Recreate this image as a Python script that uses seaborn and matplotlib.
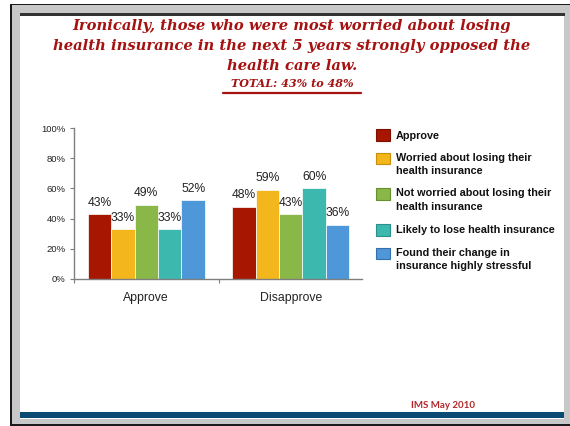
import matplotlib
matplotlib.use("Agg")
import matplotlib.pyplot as plt
from matplotlib.patches import Rectangle, Patch
from matplotlib.lines import Line2D
import seaborn as sns
import pandas as pd

# Survey results: share of each group that approves / disapproves of the law
categories = ["Approve", "Disapprove"]
groups = [
    "Approve",
    "Worried about losing their\nhealth insurance",
    "Not worried about losing their\nhealth insurance",
    "Likely to lose health insurance",
    "Found their change in\ninsurance highly stressful",
]
approve_vals = [43, 33, 49, 33, 52]
disapprove_vals = [48, 59, 43, 60, 36]
y_ticks = [0, 20, 40, 60, 80, 100]
y_tick_labels = ["0%", "20%", "40%", "60%", "80%", "100%"]

colors = ["#A61600", "#F3B71D", "#89B748", "#3DB8AE", "#4E97D9"]
edge_colors = ["#7E1000", "#C8900A", "#66902E", "#2A8F87", "#3670A8"]

df = pd.DataFrame({
    "category": [c for g in groups for c in categories],
    "group": [g for g in groups for _ in categories],
    "value": [v for pair in zip(approve_vals, disapprove_vals) for v in pair],
})

sns.set_theme(style="white")
plt.rcParams["font.family"] = ["Liberation Sans", "DejaVu Sans"]

W, H = 570, 426
fig = plt.figure(figsize=(W / 100, H / 100), dpi=100)
fig.patch.set_facecolor("white")

# Slide frame drawn in pixel coordinates on a background layer
bg = fig.add_axes([0, 0, 1, 1], zorder=0)
bg.set_xlim(0, W)
bg.set_ylim(H, 0)
bg.axis("off")
bg.add_patch(Rectangle((10, 4), W - 10, H - 4, facecolor="#1a1a1a", lw=0))
bg.add_patch(Rectangle((12, 5), W - 12, H - 7, facecolor="#C8C8C8", lw=0))
bg.add_patch(Rectangle((20, 13), 544, 406, facecolor="white", lw=0))
bg.add_patch(Rectangle((20, 13), 545, 3, facecolor="#333333", lw=0))
bg.add_patch(Rectangle((20, 412), 544, 6, facecolor="#0B4A72", lw=0))

# Title block
title_red = "#A51212"
title_kw = dict(ha="center", va="baseline", color=title_red,
                family=["DejaVu Serif"], fontweight="bold", style="italic",
                transform=bg.transData)
bg.text(292, 30, "Ironically, those who were most worried about losing",
        fontsize=10.6, **title_kw)
bg.text(292, 50, "health insurance in the next 5 years strongly opposed the",
        fontsize=10.6, **title_kw)
bg.text(292, 70, "health care law.", fontsize=10.6, **title_kw)
bg.text(292, 87, "TOTAL: 43% to 48%", fontsize=8.0, **title_kw)
bg.add_line(Line2D([223, 361], [93, 93], color=title_red, lw=1.6))

bg.text(443, 406, "IMS May 2010", ha="center", va="center", color="#B0282A",
        family=["Lato", "DejaVu Sans"], fontweight="bold", fontsize=7,
        transform=bg.transData)

# Bar chart
ax = fig.add_axes([74 / W, 1 - 279 / H, (361.6 - 74) / W, 151 / H], zorder=2)
ax.patch.set_alpha(0)
sns.barplot(data=df, x="category", y="value", hue="group",
            order=categories, hue_order=groups, palette=colors,
            width=0.81, gap=0, saturation=1, legend=False,
            edgecolor="white", linewidth=0.5, ax=ax, errorbar=None)

for cont in ax.containers:
    ax.bar_label(cont, labels=[f"{int(v)}%" for v in cont.datavalues],
                 padding=4, fontsize=8.7, color="#222222")

ax.set_ylim(0, 100)
ax.set_xlim(-0.5, 1.49)
ax.set_yticks(y_ticks)
ax.set_yticklabels(y_tick_labels)
ax.set_xlabel("")
ax.set_ylabel("")
for s in ["top", "right"]:
    ax.spines[s].set_visible(False)
for s in ["left", "bottom"]:
    ax.spines[s].set_color("#7f7f7f")
    ax.spines[s].set_linewidth(1.0)
ax.tick_params(axis="y", direction="out", length=3, width=0.8,
               color="#7f7f7f", labelsize=6.8, labelcolor="#222222", pad=3, left=True)
ax.tick_params(axis="x", length=0, labelsize=8.8, labelcolor="#222222", pad=9)
ax.set_xticks([-0.5, 0.5], minor=True)
ax.tick_params(axis="x", which="minor", direction="out", length=3,
               width=0.8, color="#7f7f7f", bottom=True)

handles = [Patch(facecolor=c, edgecolor=e, linewidth=0.8)
           for c, e in zip(colors, edge_colors)]
leg = fig.legend(handles, groups, loc="upper left",
                 bbox_to_anchor=(376 / W, 1 - 129 / H),
                 frameon=False, prop={"family": "Liberation Sans",
                                      "weight": "bold", "size": 7.8},
                 handlelength=1.3, handleheight=1.3, handletextpad=0.55,
                 labelspacing=1.13, borderpad=0, borderaxespad=0)
for t in leg.get_texts():
    t.set_color("#111111")
    t.set_linespacing(1.4)
# keep each swatch level with the first line of its label
for h, lab in zip(leg.legend_handles, groups):
    if "\n" in lab:
        h.set_y(h.get_y() + 4.7)

fig.savefig("out.png", dpi=100)
